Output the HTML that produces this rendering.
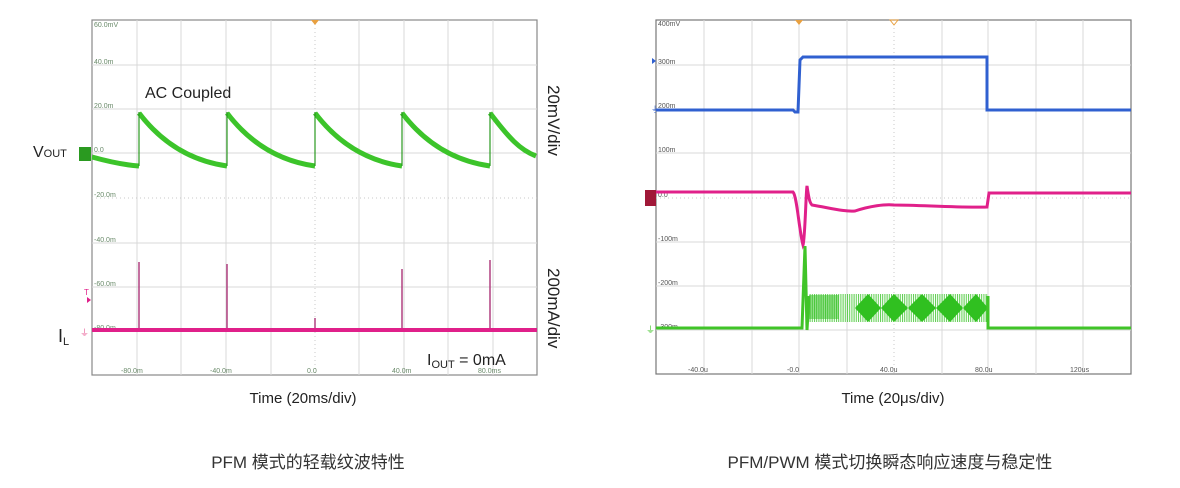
<!DOCTYPE html>
<html><head><meta charset="utf-8"><style>
html,body{margin:0;padding:0;background:#fff;width:1180px;height:488px;overflow:hidden}
svg{display:block}
text{font-family:"Liberation Sans","Noto Sans CJK SC",sans-serif}
.t{font-size:7px;fill:#6a8a6a}
.g{stroke:#d8d8d8;stroke-width:1}
.gd{stroke:#c8c8c8;stroke-width:1;stroke-dasharray:1 3}
</style></head><body>
<svg width="1180" height="488" viewBox="0 0 1180 488">
<defs>
<pattern id="vl" width="2.2" height="10" patternUnits="userSpaceOnUse">
<rect x="0" y="0" width="1" height="10" fill="#3cc42a"/>
</pattern>
</defs>
<!-- LEFT PLOT -->
<rect x="92" y="20" width="445" height="355" fill="#fff" stroke="#888" stroke-width="1.2"/>
<g class="g">
<line x1="137" y1="20" x2="137" y2="375"/><line x1="181" y1="20" x2="181" y2="375"/>
<line x1="226" y1="20" x2="226" y2="375"/><line x1="271" y1="20" x2="271" y2="375"/>
<line x1="359" y1="20" x2="359" y2="375"/><line x1="404" y1="20" x2="404" y2="375"/>
<line x1="448" y1="20" x2="448" y2="375"/><line x1="493" y1="20" x2="493" y2="375"/>
<line x1="92" y1="65" x2="537" y2="65"/><line x1="92" y1="109" x2="537" y2="109"/>
<line x1="92" y1="153" x2="537" y2="153"/><line x1="92" y1="243" x2="537" y2="243"/>
<line x1="92" y1="287" x2="537" y2="287"/><line x1="92" y1="330" x2="537" y2="330"/>
</g>
<line class="gd" x1="315" y1="20" x2="315" y2="375"/>
<line class="gd" x1="92" y1="198" x2="537" y2="198"/>
<polygon points="311,20 319,20 315,25" fill="#e8a040"/>
<text class="t" x="94" y="27">60.0mV</text><text class="t" x="94" y="64">40.0m</text>
<text class="t" x="94" y="108">20.0m</text><text class="t" x="94" y="152">0.0</text>
<text class="t" x="94" y="197">-20.0m</text><text class="t" x="94" y="242">-40.0m</text>
<text class="t" x="94" y="286">-60.0m</text><text class="t" x="94" y="330">-80.0m</text>
<text class="t" x="121" y="373">-80.0m</text><text class="t" x="210" y="373">-40.0m</text>
<text class="t" x="307" y="373">0.0</text><text class="t" x="392" y="373">40.0m</text><text class="t" x="478" y="373">80.0ms</text>
<text x="145" y="98" font-size="16" fill="#222">AC  Coupled</text>
<g stroke="#3cc42a" stroke-width="5" fill="none" stroke-linejoin="round">
<path d="M92,157 C110,162 125,165 139,166"/>
<path d="M139,113 C158,138 185,160 227,166"/>
<path d="M227,113 C246,138 273,160 315,166"/>
<path d="M315,113 C334,138 361,160 402,166"/>
<path d="M402,113 C421,138 448,160 490,166"/>
<path d="M490,113 C509,138 520,150 536,156"/>
</g>
<g stroke="#2a9a20" stroke-width="1.2">
<line x1="139" y1="166" x2="139" y2="112"/><line x1="227" y1="166" x2="227" y2="112"/>
<line x1="315" y1="166" x2="315" y2="112"/><line x1="402" y1="166" x2="402" y2="112"/>
<line x1="490" y1="166" x2="490" y2="112"/>
</g>
<rect x="79" y="147" width="12" height="14" fill="#2a9a20"/>
<g stroke="#b04080" stroke-width="1.5">
<line x1="139" y1="330" x2="139" y2="262"/><line x1="227" y1="330" x2="227" y2="264"/>
<line x1="315" y1="330" x2="315" y2="318"/><line x1="402" y1="330" x2="402" y2="269"/>
<line x1="490" y1="330" x2="490" y2="260"/>
</g>
<rect x="92" y="328" width="445" height="4" fill="#e0208a"/>
<text x="84" y="295" font-size="8" fill="#e0208a">T</text>
<polygon points="87,297 91,300 87,303" fill="#e0208a"/>
<text x="80" y="336" font-size="9" fill="#e8609a">⏚</text>
<text x="33" y="157" font-size="16" fill="#222">V<tspan font-size="11">OUT</tspan></text>
<text x="58" y="342" font-size="18" fill="#222">I<tspan font-size="11" dy="3">L</tspan></text>
<text x="427" y="365" font-size="16" fill="#222">I<tspan font-size="11" dy="3">OUT</tspan><tspan dy="-3"> = 0mA</tspan></text>
<text x="548" y="85" font-size="17" fill="#222" transform="rotate(90 548 85)">20mV/div</text>
<text x="548" y="268" font-size="17" fill="#222" transform="rotate(90 548 268)">200mA/div</text>
<text x="303" y="403" font-size="15" fill="#222" text-anchor="middle">Time (20ms/div)</text>
<text x="308" y="468" font-size="17" fill="#333" text-anchor="middle">PFM 模式的轻载纹波特性</text>

<!-- RIGHT PLOT -->
<rect x="656" y="20" width="475" height="354" fill="#fff" stroke="#777" stroke-width="1.2"/>
<g class="g">
<line x1="704" y1="20" x2="704" y2="374"/><line x1="752" y1="20" x2="752" y2="374"/>
<line x1="799" y1="20" x2="799" y2="374"/><line x1="847" y1="20" x2="847" y2="374"/>
<line x1="942" y1="20" x2="942" y2="374"/><line x1="988" y1="20" x2="988" y2="374"/>
<line x1="1036" y1="20" x2="1036" y2="374"/><line x1="1083" y1="20" x2="1083" y2="374"/>
<line x1="656" y1="65" x2="1131" y2="65"/><line x1="656" y1="109" x2="1131" y2="109"/>
<line x1="656" y1="153" x2="1131" y2="153"/><line x1="656" y1="242" x2="1131" y2="242"/>
<line x1="656" y1="286" x2="1131" y2="286"/><line x1="656" y1="330" x2="1131" y2="330"/>
</g>
<line class="gd" x1="894" y1="20" x2="894" y2="374"/>
<line class="gd" x1="656" y1="198" x2="1131" y2="198"/>
<polygon points="795,20 803,20 799,25" fill="#e8a040"/>
<polygon points="890,20 898,20 894,25" fill="none" stroke="#e8a040"/>
<text class="t" x="658" y="26" fill="#555" style="fill:#555">400mV</text>
<text class="t" x="658" y="64" style="fill:#555">300m</text><text class="t" x="658" y="108" style="fill:#555">200m</text>
<text class="t" x="658" y="152" style="fill:#555">100m</text><text class="t" x="658" y="197" style="fill:#555">0.0</text>
<text class="t" x="658" y="241" style="fill:#555">-100m</text><text class="t" x="658" y="285" style="fill:#555">-200m</text>
<text class="t" x="658" y="329" style="fill:#555">-300m</text>
<text class="t" x="688" y="372" style="fill:#555">-40.0u</text><text class="t" x="787" y="372" style="fill:#555">-0.0</text>
<text class="t" x="880" y="372" style="fill:#555">40.0u</text><text class="t" x="975" y="372" style="fill:#555">80.0u</text>
<text class="t" x="1070" y="372" style="fill:#555">120us</text>
<!-- blue -->
<path d="M656,110 L793,110 L795,112 L798,112 L800,60 L803,57 L987,57 L987,110 L1131,110" fill="none" stroke="#3060d0" stroke-width="3"/>
<polygon points="652,58 656,61 652,64" fill="#3060d0"/>
<text x="651" y="112" font-size="8" fill="#3060d0">⏚</text>
<!-- pink -->
<path d="M656,192 L793,192 C797,196 799,230 803,245 C805,240 806,190 807,186 C809,200 810,203 812,205 C830,208 845,212 855,211 C870,206 885,204 894,205 C920,205 960,208 987,207 L989,193 L1131,193" fill="none" stroke="#e0208a" stroke-width="3"/>
<rect x="645" y="190" width="11" height="16" fill="#a01838"/>
<!-- green -->
<rect x="809" y="294" width="179" height="28" fill="url(#vl)" opacity="0.85"/>
<g fill="#30c020">
<polygon points="855,308 868,294 881,308 868,322"/><polygon points="881,308 894,294 908,308 894,322"/>
<polygon points="908,308 922,294 936,308 922,322"/><polygon points="936,308 950,294 963,308 950,322"/>
<polygon points="963,308 976,294 988,308 976,322"/>
<rect x="809" y="295" width="30" height="24" opacity="0.5"/>
</g>
<path d="M656,328 L802,328 L805,246 L807,330 L809,296 M988,296 L988,328 L1131,328" fill="none" stroke="#40c428" stroke-width="3"/>
<text x="646" y="333" font-size="9" fill="#40c428">⏚</text>
<text x="893" y="403" font-size="15" fill="#222" text-anchor="middle">Time (20μs/div)</text>
<text x="890" y="468" font-size="17" fill="#333" text-anchor="middle">PFM/PWM 模式切换瞬态响应速度与稳定性</text>
</svg>
</body></html>
